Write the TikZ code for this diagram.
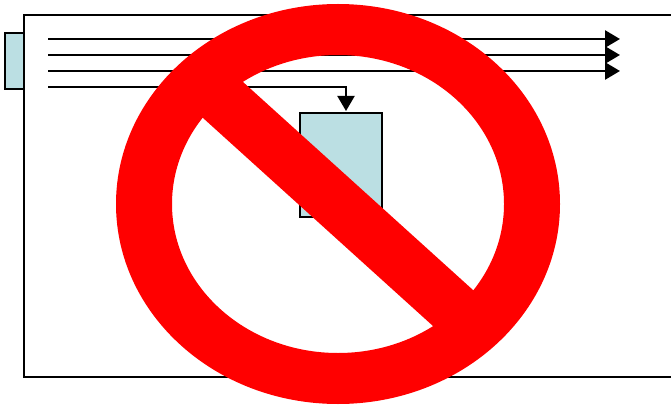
\documentclass[tikz,border=0pt]{standalone}
\usepackage{xcolor}
\usetikzlibrary{arrows.meta, positioning, calc}
\definecolor{boxblue}{HTML}{BBDFE3}

\begin{document}
\begin{tikzpicture}[
    x=1pt, y=-1pt,
    block/.style={rectangle, draw, line width=2pt, fill=boxblue,
                inner sep=0pt, outer sep=0pt},
    frameline/.style={line width=2pt},
    arr/.style={-{Triangle[length=15pt, width=17pt]}, line width=2.6pt},
    nosign/.style={fill=red, draw=none}
]
\useasboundingbox (0,0) rectangle (671,406);
% outer frame runs off the right edge
\coordinate (ftop) at (671,15);
\coordinate (fnw)  at (24,15);
\coordinate (fsw)  at (24,377);
\coordinate (fbot) at (671,377);
\draw[frameline] (ftop) -- (fnw) -- (fsw) -- (fbot);

\node[block, minimum width=19pt, minimum height=56pt] (port)  at (14.5,61) {};
\node[block, minimum width=82pt, minimum height=104pt] (unit) at (341,165) {};

\coordinate (a1) at (48,39);  \coordinate (b1) at (620,39);
\coordinate (a2) at (48,55);  \coordinate (b2) at (620,55);
\coordinate (a3) at (48,71);  \coordinate (b3) at (620,71);
\coordinate (a4) at (48,87);  \coordinate (b4) at (346,87);
\coordinate (c4) at (346,111);
\draw[arr] (a1) -- (b1);
\draw[arr] (a2) -- (b2);
\draw[arr] (a3) -- (b3);
\draw[arr, line width=2pt] (a4) -- (b4) -- (c4);

% prohibition sign on top
\coordinate (sign) at (338,204);
\fill[nosign, even odd rule] (sign) ellipse [x radius=222, y radius=200]
                             (sign) ellipse [x radius=166, y radius=149];
\fill[nosign] (195.6,111.3) -- (235.6,75.3) -- (480.4,296.7) -- (440.4,332.7) -- cycle;
\end{tikzpicture}
\end{document}
